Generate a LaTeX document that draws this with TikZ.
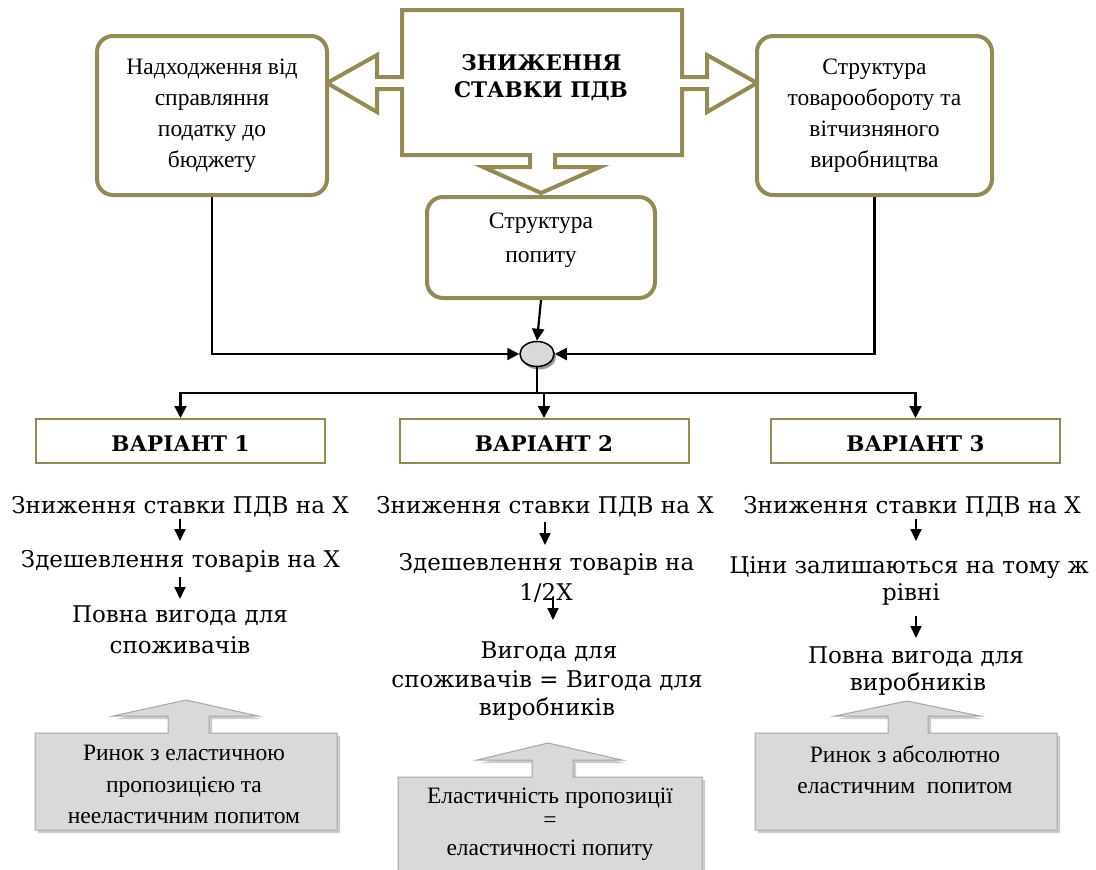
\documentclass[tikz,border=0pt]{standalone}
\usepackage{fontspec}
\setmainfont{Liberation Serif}
\newfontfamily\bk{DejaVu Serif}
\usetikzlibrary{arrows.meta,shapes.geometric,shadows}
\definecolor{olive}{HTML}{948A54}
\definecolor{callfill}{HTML}{D9D9D9}
\definecolor{callline}{HTML}{A6A6A6}
\begin{document}
\begin{tikzpicture}[x=1pt,y=-1pt,
  topbox/.style={draw=olive,line width=4pt,rounded corners=16pt,fill=white,align=center,
    font=\fontsize{23.5}{31}\selectfont},
  vbox/.style={draw=olive,line width=2pt,fill=white,minimum width=289pt,minimum height=44pt,
    text height=20pt,text depth=0pt,font=\bk\bfseries\fontsize{21.5}{24}\selectfont},
  tm/.style={anchor=base,inner sep=0pt,font=\fontsize{23.5}{28}\selectfont},
  bt/.style={anchor=base,inner sep=0pt,font=\bk\fontsize{23}{26}\selectfont},
  hd/.style={anchor=base,inner sep=0pt,font=\bk\bfseries\fontsize{21.5}{26}\selectfont},
  conn/.style={line width=2.2pt,-{Triangle[width=12pt,length=12pt]}},
  plain/.style={line width=2.2pt},
  small/.style={line width=1.8pt,-{Triangle[width=11pt,length=12pt]}},
  callout/.style={fill=callfill,draw=callline,line width=1pt,
    drop shadow={shadow xshift=3pt,shadow yshift=-3pt,fill=gray!50,opacity=0.8}}
]
\useasboundingbox (0,0) rectangle (1096,870);

% central block with three arrows
\draw[draw=olive,line width=4pt,fill=white,miter limit=10]
  (402,10) -- (682,10) -- (682,77) -- (707,77) -- (707,55) -- (757,83) -- (707,112)
  -- (707,89) -- (682,89) -- (682,155) -- (555,155) -- (555,167) -- (600,167)
  -- (541,193) -- (483,167) -- (530,167) -- (530,155) -- (402,155) -- (402,89)
  -- (377,89) -- (377,112) -- (327,83) -- (377,55) -- (377,77) -- (402,77) -- cycle;
\node[hd] (h1) at (541.5,70) {ЗНИЖЕННЯ};
\node[hd] (h2) at (541,97) {СТАВКИ ПДВ};

% top boxes
\node[topbox,minimum width=230pt,minimum height=159pt] (lb) at (212,115.5)
  {Надходження від\\справляння\\податку до\\бюджету};
\node[topbox,minimum width=235pt,minimum height=159pt] (rb) at (874.5,115.5)
  {Структура\\товарообороту та\\вітчизняного\\виробництва};
\node[topbox,minimum width=228pt,minimum height=101pt] (mb) at (541,247.5) {};
\node[tm] (mb1) at (541,228) {Структура};
\node[tm] (mb2) at (541,262) {попиту};

% junction
\node[ellipse,draw,line width=1.5pt,fill=callfill,minimum width=34pt,minimum height=25pt,
  inner sep=0pt,drop shadow={shadow xshift=2pt,shadow yshift=-3pt,fill=gray!80,opacity=1}]
  (J) at (537,354) {};
\draw[conn] (lb.south) |- (J.west);
\draw[conn] (rb.south) |- (J.east);
\draw[conn] (mb.south) -- (J.north);

% variants
\node[vbox] (v1) at (180.5,441) {ВАРІАНТ 1};
\node[vbox] (v2) at (544,441) {ВАРІАНТ 2};
\node[vbox] (v3) at (915.5,441) {ВАРІАНТ 3};
\coordinate (hub) at (537,393);
\draw[plain] (J.south) -- (hub);
\draw[conn] (hub) -| (v1.north);
\draw[conn] (hub) -| (v2.north);
\draw[conn] (hub) -| (v3.north);

% column 1
\node[bt] (a1) at (180,513) {Зниження ставки ПДВ на Х};
\node[bt] (a2) at (180.5,567) {Здешевлення товарів на Х};
\node[bt] (a3) at (180,622) {Повна вигода для};
\node[bt] (a4) at (180,653) {споживачів};
\coordinate (a1s) at (180,519); \coordinate (a1e) at (180,541);
\coordinate (a2s) at (180,577); \coordinate (a2e) at (180,599);
\draw[small] (a1s) -- (a1e);
\draw[small] (a2s) -- (a2e);

% column 2
\node[bt] (b1) at (545,513) {Зниження ставки ПДВ на Х};
\node[bt] (b2) at (546.5,570) {Здешевлення товарів на};
\node[bt] (b3) at (546,600) {1/2X};
\node[bt] (b4) at (549,658) {Вигода для};
\node[bt] (b5) at (547,687) {споживачів = Вигода для};
\node[bt] (b6) at (547,715) {виробників};
\coordinate (b1s) at (545,522); \coordinate (b1e) at (545,545);
\coordinate (b2s) at (553,597); \coordinate (b2e) at (553,620);
\draw[small] (b1s) -- (b1e);
\draw[small] (b2s) -- (b2e);

% column 3
\node[bt] (c1) at (912,513) {Зниження ставки ПДВ на Х};
\node[bt] (c2) at (909,573) {Ціни залишаються на тому ж};
\node[bt] (c3) at (911,600) {рівні};
\node[bt] (c4) at (916,663) {Повна вигода для};
\node[bt] (c5) at (918,690) {виробників};
\coordinate (c1s) at (916,519); \coordinate (c1e) at (916,541);
\coordinate (c2s) at (916,616); \coordinate (c2e) at (916,638);
\draw[small] (c1s) -- (c1e);
\draw[small] (c2s) -- (c2e);

% gray callouts
\path[callout] (35,733) -- (168,733) -- (168,716) -- (113,716) -- (186,700) -- (258,716)
  -- (209,716) -- (209,733) -- (337,733) -- (337,830) -- (35,830) -- cycle;
\node[tm] (g11) at (184,760) {Ринок з еластичною};
\node[tm] (g12) at (184,792) {пропозицією та};
\node[tm] (g13) at (184,823) {нееластичним попитом};

\path[callout] (398,777) -- (532,777) -- (532,760) -- (477,760) -- (548,743) -- (622,760)
  -- (573,760) -- (573,777) -- (702,777) -- (702,880) -- (398,880) -- cycle;
\node[tm] (g21) at (550,803) {Еластичність пропозиції};
\node[tm] (g22) at (550,827) {=};
\node[tm] (g23) at (550,855) {еластичності попиту};

\path[callout] (755,733) -- (888,733) -- (888,716) -- (835,716) -- (907,701) -- (980,716)
  -- (928,716) -- (928,733) -- (1057,733) -- (1057,830) -- (755,830) -- cycle;
\node[tm] (g31) at (905,762) {Ринок з абсолютно};
\node[tm] (g32) at (905,793) {еластичним\ \ попитом};
\end{tikzpicture}
\end{document}
